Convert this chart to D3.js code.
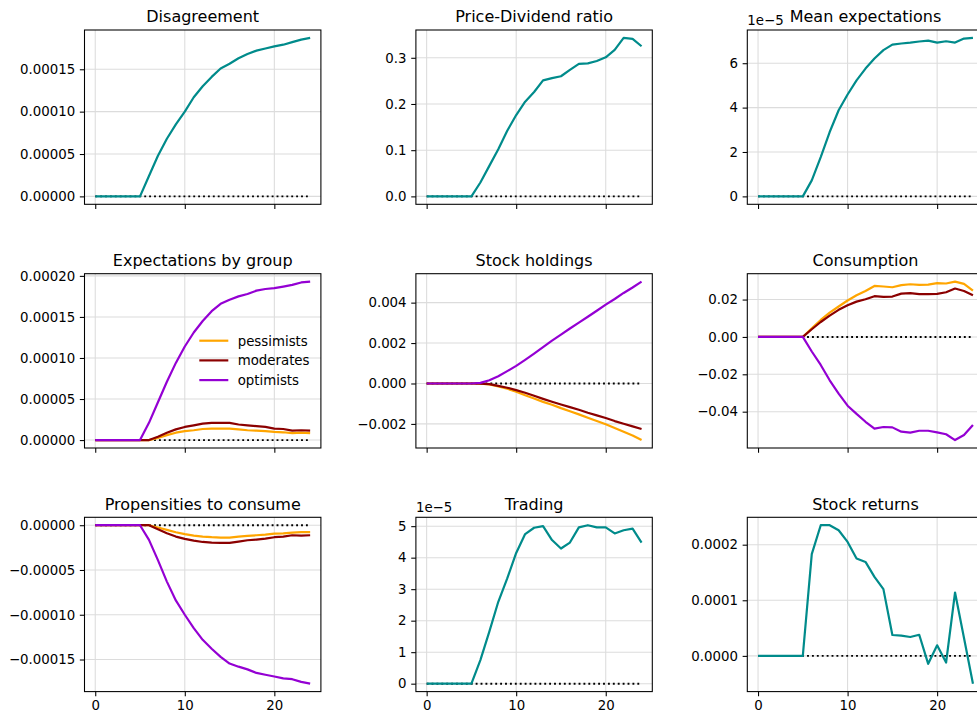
<!DOCTYPE html>
<html>
<head>
<meta charset="utf-8">
<script src="https://cdn.jsdelivr.net/npm/d3@7"></script>
<style>
  html, body { margin: 0; padding: 0; background: #fff; }
  svg { display: block; }
</style>
</head>
<body>
<svg id="fig" width="977" height="713"></svg>
<script>
// Impulse responses over 25 periods, one 3x3 grid of panels.
const horizon = [0,1,2,3,4,5,6,7,8,9,10,11,12,13,14,15,16,17,18,19,20,21,22,23,24];
const xTicks = [0, 10, 20];

const disagreement = [0,0,0,0,0,0, 2.4e-5,4.8e-5,6.8e-5,8.5e-5,1.0e-4,1.17e-4,1.30e-4,1.41e-4,1.51e-4,1.565e-4,1.63e-4,1.68e-4,1.72e-4,1.745e-4,1.77e-4,1.79e-4,1.82e-4,1.85e-4,1.87e-4];
const priceDividend = [0,0,0,0,0,0, 0.030,0.066,0.102,0.142,0.176,0.205,0.226,0.251,0.256,0.260,0.274,0.287,0.288,0.293,0.301,0.317,0.343,0.341,0.325];
const meanExpectations = [0,0,0,0,0,0, 0.72e-5,1.77e-5,2.90e-5,3.88e-5,4.59e-5,5.23e-5,5.76e-5,6.21e-5,6.59e-5,6.84e-5,6.89e-5,6.93e-5,6.98e-5,7.02e-5,6.93e-5,6.99e-5,6.93e-5,7.11e-5,7.14e-5];

const expPessimists = [0,0,0,0,0,0, 0,0.25e-5,0.6e-5,0.9e-5,1.1e-5,1.2e-5,1.35e-5,1.4e-5,1.4e-5,1.4e-5,1.3e-5,1.2e-5,1.15e-5,1.1e-5,1.0e-5,0.95e-5,0.85e-5,0.9e-5,0.85e-5];
const expModerates = [0,0,0,0,0,0, 0,0.4e-5,0.9e-5,1.3e-5,1.6e-5,1.8e-5,2.0e-5,2.1e-5,2.1e-5,2.1e-5,1.9e-5,1.8e-5,1.7e-5,1.6e-5,1.4e-5,1.35e-5,1.15e-5,1.2e-5,1.15e-5];
const expOptimists = [0,0,0,0,0,0, 2.1e-5,4.6e-5,7.1e-5,9.4e-5,1.14e-4,1.31e-4,1.45e-4,1.57e-4,1.66e-4,1.71e-4,1.75e-4,1.78e-4,1.82e-4,1.84e-4,1.85e-4,1.87e-4,1.89e-4,1.92e-4,1.93e-4];

const holdPessimists = [0,0,0,0,0,0, -0.01e-3,-0.05e-3,-0.15e-3,-0.26e-3,-0.41e-3,-0.58e-3,-0.74e-3,-0.91e-3,-1.05e-3,-1.22e-3,-1.37e-3,-1.53e-3,-1.70e-3,-1.86e-3,-2.02e-3,-2.20e-3,-2.39e-3,-2.57e-3,-2.80e-3];
const holdModerates = [0,0,0,0,0,0, -0.01e-3,-0.03e-3,-0.12e-3,-0.21e-3,-0.33e-3,-0.46e-3,-0.61e-3,-0.76e-3,-0.90e-3,-1.04e-3,-1.17e-3,-1.30e-3,-1.45e-3,-1.58e-3,-1.71e-3,-1.86e-3,-1.99e-3,-2.12e-3,-2.25e-3];
const holdOptimists = [0,0,0,0,0,0, 0.03e-3,0.16e-3,0.36e-3,0.61e-3,0.87e-3,1.17e-3,1.48e-3,1.80e-3,2.12e-3,2.42e-3,2.72e-3,3.01e-3,3.30e-3,3.60e-3,3.90e-3,4.18e-3,4.48e-3,4.75e-3,5.04e-3];

const consPessimists = [0,0,0,0,0,0, 0.0046,0.0091,0.0130,0.0163,0.0195,0.0223,0.0246,0.0273,0.0270,0.0266,0.0277,0.0282,0.0279,0.0280,0.0288,0.0286,0.0296,0.0284,0.0248];
const consModerates = [0,0,0,0,0,0, 0.0041,0.0080,0.0114,0.0145,0.0170,0.0189,0.0202,0.0218,0.0214,0.0216,0.0232,0.0234,0.0229,0.0229,0.0230,0.0239,0.0259,0.0246,0.0223];
const consOptimists = [0,0,0,0,0,0, -0.0078,-0.0150,-0.0232,-0.0303,-0.0368,-0.0412,-0.0454,-0.0491,-0.0482,-0.0484,-0.0507,-0.0512,-0.0502,-0.0502,-0.0511,-0.0521,-0.0552,-0.0525,-0.0471];

const propPessimists = [0,0,0,0,0,0, 0,-0.26e-5,-0.52e-5,-0.78e-5,-1.0e-5,-1.16e-5,-1.27e-5,-1.34e-5,-1.38e-5,-1.38e-5,-1.27e-5,-1.2e-5,-1.12e-5,-1.04e-5,-0.93e-5,-0.9e-5,-0.82e-5,-0.78e-5,-0.78e-5];
const propModerates = [0,0,0,0,0,0, 0,-0.45e-5,-0.9e-5,-1.27e-5,-1.53e-5,-1.72e-5,-1.87e-5,-1.94e-5,-1.98e-5,-1.98e-5,-1.83e-5,-1.68e-5,-1.6e-5,-1.5e-5,-1.34e-5,-1.27e-5,-1.12e-5,-1.16e-5,-1.12e-5];
const propOptimists = [0,0,0,0,0,0, -1.64e-5,-3.9e-5,-6.3e-5,-8.4e-5,-1.0e-4,-1.15e-4,-1.28e-4,-1.38e-4,-1.47e-4,-1.545e-4,-1.58e-4,-1.61e-4,-1.65e-4,-1.67e-4,-1.69e-4,-1.71e-4,-1.72e-4,-1.75e-4,-1.77e-4];

const trading = [0,0,0,0,0,0, 0.75e-5,1.65e-5,2.60e-5,3.34e-5,4.15e-5,4.75e-5,4.95e-5,5.00e-5,4.56e-5,4.29e-5,4.48e-5,4.96e-5,5.03e-5,4.96e-5,4.96e-5,4.77e-5,4.87e-5,4.92e-5,4.48e-5];
const stockReturns = [0,0,0,0,0,0, 1.83e-4,2.35e-4,2.35e-4,2.26e-4,2.05e-4,1.75e-4,1.69e-4,1.42e-4,1.20e-4,3.76e-5,3.64e-5,3.4e-5,3.8e-5,-1.43e-5,1.9e-5,-1.2e-5,1.14e-4,3.2e-5,-5.0e-5];

const zeroLine = horizon.map(() => 0);

// tick values and label formats per panel
const ticksDisagreement = [0, 5e-5, 1e-4, 1.5e-4];
const ticksPriceDividend = [0, 0.1, 0.2, 0.3];
const ticksMeanExp = [0, 2e-5, 4e-5, 6e-5];
const ticksExpGroup = [0, 5e-5, 1e-4, 1.5e-4, 2e-4];
const ticksHoldings = [-0.002, 0, 0.002, 0.004];
const ticksConsumption = [-0.04, -0.02, 0, 0.02];
const ticksPropensities = [-1.5e-4, -1e-4, -5e-5, 0];
const ticksTrading = [0, 1e-5, 2e-5, 3e-5, 4e-5, 5e-5];
const ticksReturns = [0, 1e-4, 2e-4];

const groupNames = ["pessimists", "moderates", "optimists"];

const TEAL = "#008b8b", ORANGE = "#ffa500", DARKRED = "#8b0000", VIOLET = "#9400d3";
const groupColors = [ORANGE, DARKRED, VIOLET];

const panels = [
  { title: "Disagreement", series: [disagreement], colors: [TEAL], ticks: ticksDisagreement, fmt: d3.format(".5f") },
  { title: "Price-Dividend ratio", series: [priceDividend], colors: [TEAL], ticks: ticksPriceDividend, fmt: d3.format(".1f") },
  { title: "Mean expectations", series: [meanExpectations], colors: [TEAL], ticks: ticksMeanExp, fmt: v => d3.format(".0f")(v / 1e-5), offset: "1e\u22125" },
  { title: "Expectations by group", series: [expPessimists, expModerates, expOptimists], colors: groupColors, ticks: ticksExpGroup, fmt: d3.format(".5f"), legend: true },
  { title: "Stock holdings", series: [holdPessimists, holdModerates, holdOptimists], colors: groupColors, ticks: ticksHoldings, fmt: d3.format(".3f") },
  { title: "Consumption", series: [consPessimists, consModerates, consOptimists], colors: groupColors, ticks: ticksConsumption, fmt: d3.format(".2f") },
  { title: "Propensities to consume", series: [propPessimists, propModerates, propOptimists], colors: groupColors, ticks: ticksPropensities, fmt: d3.format(".5f") },
  { title: "Trading", series: [trading], colors: [TEAL], ticks: ticksTrading, fmt: v => d3.format(".0f")(v / 1e-5), offset: "1e\u22125" },
  { title: "Stock returns", series: [stockReturns], colors: [TEAL], ticks: ticksReturns, fmt: d3.format(".4f") }
];

// grid geometry
const colLeft = [84.5, 415.9, 747.3];
const rowTop = [30, 273.7, 517.3];
const axW = 236.4, axH = 174.3;
const FONT = "DejaVu Sans, sans-serif";
const tickLen = 4.67, tickPad = 4.67;

const svg = d3.select("#fig");
svg.append("rect").attr("width", 977).attr("height", 713).attr("fill", "#fff");

panels.forEach((p, i) => {
  const col = i % 3, row = Math.floor(i / 3);
  const g = svg.append("g").attr("transform", `translate(${colLeft[col]},${rowTop[row]})`);

  const x = d3.scaleLinear().domain([-1.2, 25.2]).range([0, axW]);
  const all = p.series.flat().concat(zeroLine);
  const [lo, hi] = d3.extent(all);
  const m = (hi - lo) * 0.05;
  const y = d3.scaleLinear().domain([lo - m, hi + m]).range([axH, 0]);

  const clipId = "clip" + i;
  g.append("clipPath").attr("id", clipId)
    .append("rect").attr("width", axW).attr("height", axH);

  // grid
  const grid = g.append("g").attr("stroke", "#dcdcdc").attr("stroke-width", 1.07);
  grid.selectAll(".gx").data(xTicks).join("line")
    .attr("x1", d => x(d)).attr("x2", d => x(d)).attr("y1", 0).attr("y2", axH);
  grid.selectAll(".gy").data(p.ticks).join("line")
    .attr("x1", 0).attr("x2", axW).attr("y1", d => y(d)).attr("y2", d => y(d));

  const plot = g.append("g").attr("clip-path", `url(#${clipId})`);
  const line = d3.line().x((d, k) => x(horizon[k])).y(d => y(d));

  // zero reference
  plot.append("path").datum(zeroLine).attr("d", line)
    .attr("fill", "none").attr("stroke", "#000").attr("stroke-width", 1.9)
    .attr("stroke-dasharray", "1.9,3");

  p.series.forEach((s, k) => {
    plot.append("path").datum(s).attr("d", line)
      .attr("fill", "none").attr("stroke", p.colors[k]).attr("stroke-width", 2.2)
      .attr("stroke-linejoin", "round").attr("stroke-linecap", "butt");
  });

  // axes
  const yAxis = d3.axisLeft(y).tickValues(p.ticks).tickFormat(p.fmt)
    .tickSize(tickLen).tickPadding(tickPad);
  const ya = g.append("g").call(yAxis);
  const xAxis = d3.axisBottom(x).tickValues(xTicks)
    .tickFormat(row === 2 ? d3.format("d") : () => "")
    .tickSize(tickLen).tickPadding(tickPad);
  const xa = g.append("g").attr("transform", `translate(0,${axH})`).call(xAxis);
  [ya, xa].forEach(a => {
    a.select(".domain").remove();
    a.attr("font-family", FONT).attr("font-size", 13.33);
    a.selectAll("line").attr("stroke", "#000").attr("stroke-width", 1.07);
    a.selectAll("text").attr("fill", "#000");
  });

  // frame
  g.append("rect").attr("width", axW).attr("height", axH)
    .attr("fill", "none").attr("stroke", "#000").attr("stroke-width", 1.07);

  // title
  g.append("text").attr("x", axW / 2).attr("y", -7.6)
    .attr("text-anchor", "middle").attr("font-family", FONT).attr("font-size", 16)
    .attr("fill", "#000").text(p.title);

  if (p.offset) {
    g.append("text").attr("x", 0).attr("y", -5)
      .attr("font-family", FONT).attr("font-size", 13.33).attr("fill", "#000")
      .text(p.offset);
  }

  if (p.legend) {
    const lg = g.append("g").attr("transform", "translate(114.8,67)");
    groupNames.forEach((name, k) => {
      const ly = k * 19.7;
      lg.append("line").attr("x1", 0).attr("x2", 29).attr("y1", ly).attr("y2", ly)
        .attr("stroke", groupColors[k]).attr("stroke-width", 2.2);
      lg.append("text").attr("x", 38.4).attr("y", ly + 5)
        .attr("font-family", FONT).attr("font-size", 13.33).attr("fill", "#000")
        .text(name);
    });
  }
});
</script>
</body>
</html>
